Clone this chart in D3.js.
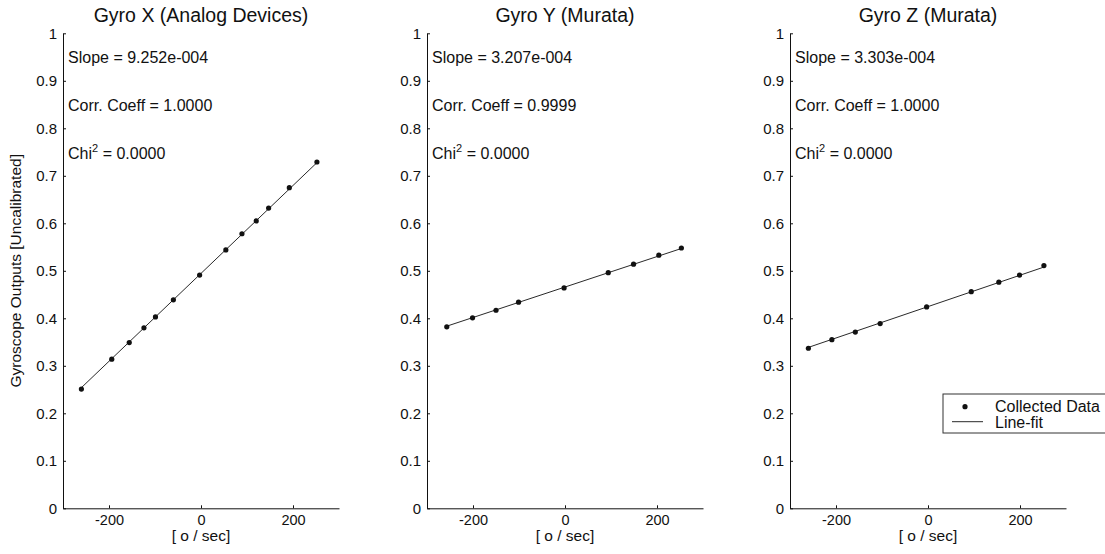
<!DOCTYPE html>
<html>
<head>
<meta charset="utf-8">
<script src="https://cdn.jsdelivr.net/npm/d3@7"></script>
<style>
  html, body { margin: 0; padding: 0; background: #fff; }
  svg { display: block; }
  text { font-family: "Liberation Sans", Arial, Helvetica, sans-serif; fill: #111; }
</style>
</head>
<body>
<svg id="chart" width="1105" height="554"></svg>
<script>
// Gyro calibration: sensor output vs applied rotation rate, one panel per axis
const panelTitles = ["Gyro X (Analog Devices)", "Gyro Y (Murata)", "Gyro Z (Murata)"];

// applied rate [deg/s]
const rateGyroX = [-260, -194, -156, -124, -99, -60, -3, 54, 89, 120, 147, 192, 252];
const rateGyroY = [-257, -201, -150, -101, -2, 94, 149, 204, 253];
const rateGyroZ = [-260, -209, -158, -104, -3, 94, 154, 199, 252];

// measured gyro output [uncalibrated]
const outGyroX = [0.251, 0.314, 0.349, 0.380, 0.403, 0.439, 0.491, 0.544, 0.578, 0.605, 0.632, 0.675, 0.729];
const outGyroY = [0.382, 0.401, 0.417, 0.434, 0.464, 0.496, 0.514, 0.533, 0.548];
const outGyroZ = [0.337, 0.355, 0.371, 0.389, 0.424, 0.456, 0.476, 0.491, 0.511];

// fit statistics
const slopes = [9.252e-4, 3.207e-4, 3.303e-4];
const slopeLabels = ["9.252e-004", "3.207e-004", "3.303e-004"];
const corrLabels = ["1.0000", "0.9999", "1.0000"];
const chiLabels = ["0.0000", "0.0000", "0.0000"];

// axes
const xDomain = [-300, 300];
const yDomain = [0, 1];
const xTicks = [-200, 0, 200];
const yTicks = [0, 0.1, 0.2, 0.3, 0.4, 0.5, 0.6, 0.7, 0.8, 0.9, 1];
const yTickLabels = ["0", "0.1", "0.2", "0.3", "0.4", "0.5", "0.6", "0.7", "0.8", "0.9", "1"];

const rates = [rateGyroX, rateGyroY, rateGyroZ];
const outputs = [outGyroX, outGyroY, outGyroZ];

const svg = d3.select("#chart");
const ink = "#111";

const panelLeft = [63, 427, 790];
const plotW = 276;
const plotTop = 33.3, plotBottom = 508.3;

panelTitles.forEach((title, i) => {
  const g = svg.append("g").attr("transform", `translate(${panelLeft[i]},0)`);
  const x = d3.scaleLinear().domain(xDomain).range([0, plotW]);
  const y = d3.scaleLinear().domain(yDomain).range([plotBottom, plotTop]);

  // axes with inward ticks
  const yAxis = d3.axisLeft(y).tickValues(yTicks)
    .tickFormat((d, k) => yTickLabels[k]).tickSizeInner(-3).tickSizeOuter(0).tickPadding(6);
  const xAxis = d3.axisBottom(x).tickValues(xTicks)
    .tickFormat(d => String(d)).tickSizeInner(-3).tickSizeOuter(0).tickPadding(6);

  const ya = g.append("g").call(yAxis);
  const xa = g.append("g").attr("transform", `translate(0,${plotBottom})`).call(xAxis);
  [ya, xa].forEach(a => {
    a.selectAll("path, line").attr("stroke", ink).attr("stroke-width", 1);
  });
  ya.selectAll("text").style("font-size", "15px").attr("fill", ink);
  xa.selectAll("text").style("font-size", "14.5px").attr("fill", ink);

  // title
  g.append("text").attr("x", plotW / 2).attr("y", 21.5)
    .attr("text-anchor", "middle").style("font-size", "19.5px").text(title);

  // x label
  g.append("text").attr("x", plotW / 2).attr("y", 541)
    .attr("text-anchor", "middle").style("font-size", "15.5px").text("[ o / sec]");

  // fit line using stated slope, through the data centroid
  const xs = rates[i], ys = outputs[i];
  const mx = d3.mean(xs), my = d3.mean(ys);
  const b = my - slopes[i] * mx;
  const ends = [d3.min(xs), d3.max(xs)];
  g.append("path")
    .datum(ends.map(v => [v, b + slopes[i] * v]))
    .attr("fill", "none").attr("stroke", ink).attr("stroke-width", 0.9)
    .attr("d", d3.line().x(d => x(d[0])).y(d => y(d[1])));

  // collected data points
  g.selectAll("circle.pt").data(xs.map((v, k) => [v, ys[k]])).enter()
    .append("circle").attr("class", "pt")
    .attr("cx", d => x(d[0])).attr("cy", d => y(d[1])).attr("r", 2.6).attr("fill", ink);

  // fit statistics annotation
  const tx = x(-289);
  g.append("text").attr("x", tx).attr("y", y(0.95) + 6).style("font-size", "16px")
    .text("Slope = " + slopeLabels[i]);
  g.append("text").attr("x", tx).attr("y", y(0.85) + 6).style("font-size", "16px")
    .text("Corr. Coeff = " + corrLabels[i]);
  const chi = g.append("text").attr("x", tx).attr("y", y(0.75) + 7).style("font-size", "16px");
  chi.append("tspan").text("Chi");
  chi.append("tspan").attr("dy", -7).style("font-size", "11px").text("2");
  chi.append("tspan").attr("dy", 7).text(" = " + chiLabels[i]);

  if (i === 0) {
    g.append("text")
      .attr("transform", `translate(-42,${(plotTop + plotBottom) / 2}) rotate(-90)`)
      .attr("text-anchor", "middle").style("font-size", "15.5px")
      .text("Gyroscope Outputs [Uncalibrated]");
  }

  if (i === 2) {
    const lg = g.append("g").attr("transform", "translate(153,394)");
    lg.append("rect").attr("x", 0).attr("y", 0).attr("width", 200).attr("height", 39)
      .attr("fill", "#fff").attr("stroke", "#333").attr("stroke-width", 1);
    lg.append("circle").attr("cx", 22).attr("cy", 12.7).attr("r", 2.6).attr("fill", ink);
    lg.append("text").attr("x", 52).attr("y", 17.5).style("font-size", "16px").text("Collected Data");
    lg.append("line").attr("x1", 9).attr("x2", 40).attr("y1", 27.7).attr("y2", 27.7)
      .attr("stroke", ink).attr("stroke-width", 0.9);
    lg.append("text").attr("x", 52).attr("y", 33.5).style("font-size", "16px").text("Line-fit");
  }
});
</script>
</body>
</html>
